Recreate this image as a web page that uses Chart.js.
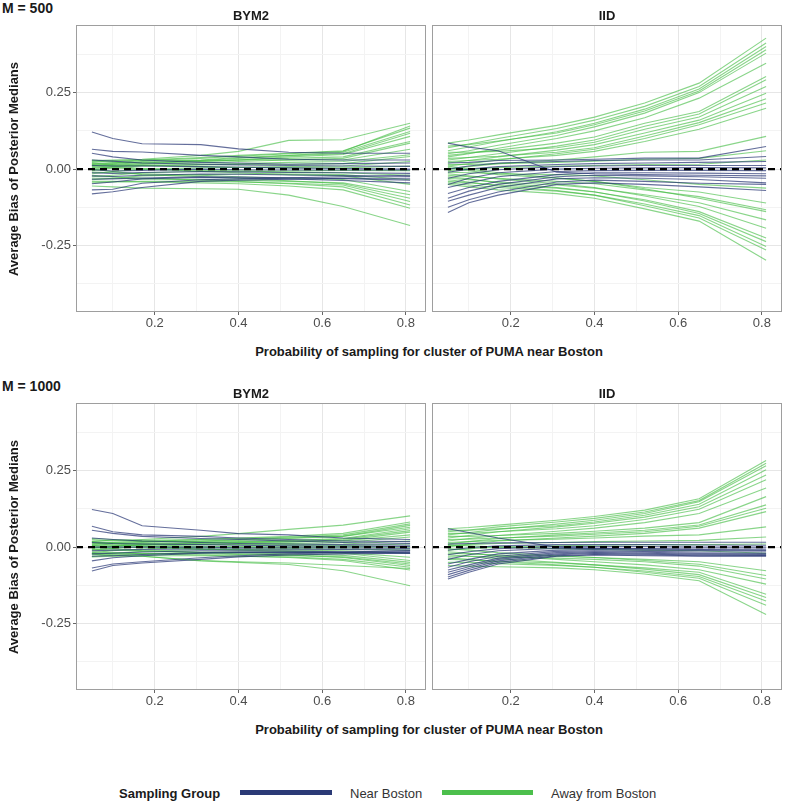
<!DOCTYPE html>
<html><head><meta charset="utf-8">
<script src="https://cdn.jsdelivr.net/npm/chart.js@4.4.1/dist/chart.umd.min.js"></script>
<style>
html,body{margin:0;padding:0;background:#fff;}
#wrap{position:relative;width:786px;height:804px;overflow:hidden;font-family:'Liberation Sans',Arial,sans-serif;color:#1a1a1a;}
canvas{position:absolute;}
.t{position:absolute;white-space:nowrap;transform:translate(-50%,-50%);line-height:1;}
.l{position:absolute;white-space:nowrap;transform:translate(0,-50%);line-height:1;}
.b{font-weight:bold;}
.yt{position:absolute;white-space:nowrap;transform:translate(-50%,-50%) rotate(-90deg);line-height:1;font-weight:bold;font-size:13px;}
.sw{position:absolute;height:5px;}
</style></head><body>
<div id="wrap">
  <canvas id="c1" width="430" height="320" style="left:0;top:20px"></canvas>
  <canvas id="c2" width="358" height="320" style="left:428px;top:20px"></canvas>
  <canvas id="c3" width="430" height="320" style="left:0;top:398px"></canvas>
  <canvas id="c4" width="358" height="320" style="left:428px;top:398px"></canvas>

  <div class="l b" style="left:2px;top:8px;font-size:14px">M = 500</div>
  <div class="t b" style="left:251px;top:15px;font-size:13px">BYM2</div>
  <div class="t b" style="left:607px;top:15px;font-size:13px">IID</div>
  <div class="yt" style="left:13px;top:169px">Average Bias of Posterior Medians</div>
  <div class="t b" style="left:429px;top:351px;font-size:13px">Probability of sampling for cluster of PUMA near Boston</div>

  <div class="l b" style="left:2px;top:386px;font-size:14px">M = 1000</div>
  <div class="t b" style="left:251px;top:393px;font-size:13px">BYM2</div>
  <div class="t b" style="left:607px;top:393px;font-size:13px">IID</div>
  <div class="yt" style="left:13px;top:547px">Average Bias of Posterior Medians</div>
  <div class="t b" style="left:429px;top:729px;font-size:13px">Probability of sampling for cluster of PUMA near Boston</div>

  <div class="l b" style="left:119px;top:793px;font-size:13px">Sampling Group</div>
  <div class="sw" style="left:240px;top:790px;width:92px;background:#2b3a76"></div>
  <div class="l" style="left:350px;top:793px;font-size:13px;color:#333">Near Boston</div>
  <div class="sw" style="left:442px;top:790px;width:91px;background:#4cbf4c"></div>
  <div class="l" style="left:551px;top:793px;font-size:13px;color:#333">Away from Boston</div>
</div>
<script>
// ---------- data ----------
const xProb = [0.05, 0.10, 0.17, 0.31, 0.40, 0.52, 0.65, 0.81];
const xMajor = [0.2, 0.4, 0.6, 0.8];
const xMinor = [0.1, 0.3, 0.5, 0.7];
const yMajor = [-0.25, 0, 0.25];
const yMinor = [-0.375, -0.125, 0.125, 0.375];
const xRange = [0.012, 0.848];
const yRange = [-0.467, 0.471];
const refLine = 0;

const m500_bym2_near = [
 [0.121,0.100,0.083,0.080,0.066,0.055,0.052,0.052],
 [0.065,0.058,0.056,0.045,0.040,0.032,0.030,0.030],
 [0.052,0.040,0.030,0.022,0.020,0.016,0.018,0.020],
 [0.030,0.026,0.020,0.016,0.014,0.012,0.010,0.009],
 [0.012,0.010,0.010,0.008,0.006,0.004,0.002,0.000],
 [-0.002,-0.006,-0.004,0.000,-0.002,-0.003,-0.003,-0.003],
 [-0.012,-0.014,-0.011,-0.008,-0.009,-0.011,-0.012,-0.014],
 [-0.022,-0.024,-0.020,-0.016,-0.017,-0.019,-0.021,-0.024],
 [-0.033,-0.032,-0.029,-0.025,-0.026,-0.028,-0.031,-0.036],
 [-0.048,-0.042,-0.032,-0.027,-0.028,-0.032,-0.037,-0.045],
 [-0.068,-0.066,-0.046,-0.035,-0.032,-0.028,-0.025,-0.020],
 [-0.081,-0.074,-0.060,-0.040,-0.036,-0.033,-0.030,-0.030]
];
const m500_bym2_away = [
 [0.022,0.028,0.032,0.045,0.058,0.094,0.096,0.150],
 [0.015,0.020,0.028,0.035,0.042,0.050,0.058,0.141],
 [0.030,0.025,0.030,0.038,0.045,0.052,0.060,0.134],
 [0.010,0.018,0.025,0.030,0.038,0.045,0.055,0.123],
 [0.025,0.022,0.020,0.028,0.035,0.044,0.050,0.117],
 [0.005,0.012,0.018,0.025,0.030,0.040,0.048,0.107],
 [0.018,0.015,0.022,0.025,0.030,0.035,0.040,0.090],
 [0.000,0.008,0.015,0.020,0.025,0.030,0.035,0.085],
 [0.028,0.030,0.030,0.028,0.030,0.030,0.030,0.065],
 [-0.005,0.004,0.010,0.015,0.018,0.022,0.025,0.047],
 [0.012,0.010,0.012,0.014,0.015,0.016,0.018,0.041],
 [-0.015,-0.008,0.000,0.004,0.006,0.008,0.010,0.025],
 [0.020,0.015,0.012,0.008,0.006,0.004,0.004,0.010],
 [-0.025,-0.020,-0.012,-0.008,-0.006,-0.006,-0.004,-0.005],
 [0.008,0.004,0.000,-0.004,-0.006,-0.010,-0.012,-0.020],
 [-0.035,-0.030,-0.022,-0.018,-0.016,-0.016,-0.018,-0.035],
 [0.015,0.010,0.002,-0.008,-0.012,-0.018,-0.022,-0.050],
 [-0.010,-0.012,-0.015,-0.020,-0.025,-0.030,-0.034,-0.073],
 [-0.030,-0.030,-0.032,-0.034,-0.036,-0.040,-0.045,-0.084],
 [0.000,-0.008,-0.018,-0.025,-0.030,-0.038,-0.048,-0.095],
 [-0.045,-0.042,-0.040,-0.040,-0.042,-0.046,-0.052,-0.106],
 [-0.020,-0.025,-0.030,-0.036,-0.040,-0.048,-0.058,-0.117],
 [-0.040,-0.040,-0.042,-0.045,-0.048,-0.055,-0.068,-0.128],
 [-0.055,-0.058,-0.062,-0.064,-0.066,-0.085,-0.122,-0.184]
];
const m500_iid_near = [
 [0.085,0.072,0.060,-0.010,-0.015,-0.018,-0.020,-0.022],
 [0.020,0.022,0.028,0.030,0.032,0.036,0.036,0.074],
 [0.000,0.010,0.020,0.025,0.028,0.030,0.030,0.041],
 [-0.010,0.000,0.008,0.015,0.018,0.020,0.022,0.025],
 [-0.030,-0.015,-0.002,0.008,0.010,0.012,0.012,0.012],
 [-0.050,-0.030,-0.012,0.000,0.003,0.004,0.005,0.004],
 [-0.060,-0.045,-0.025,-0.008,-0.005,-0.004,-0.004,-0.005],
 [-0.080,-0.060,-0.040,-0.018,-0.012,-0.012,-0.013,-0.015],
 [-0.095,-0.072,-0.050,-0.025,-0.020,-0.022,-0.025,-0.030],
 [-0.105,-0.085,-0.060,-0.032,-0.028,-0.030,-0.034,-0.045],
 [-0.125,-0.100,-0.075,-0.042,-0.036,-0.040,-0.046,-0.050],
 [-0.142,-0.110,-0.085,-0.050,-0.045,-0.050,-0.058,-0.070]
];
const m500_iid_away = [
 [0.085,0.095,0.112,0.143,0.170,0.216,0.281,0.428],
 [0.070,0.082,0.100,0.133,0.160,0.205,0.270,0.412],
 [0.060,0.072,0.090,0.122,0.150,0.196,0.262,0.401],
 [0.075,0.080,0.092,0.118,0.145,0.190,0.255,0.390],
 [0.050,0.060,0.078,0.110,0.138,0.183,0.250,0.379],
 [0.040,0.050,0.068,0.100,0.125,0.168,0.232,0.346],
 [0.045,0.052,0.062,0.085,0.105,0.150,0.188,0.303],
 [0.030,0.038,0.050,0.075,0.095,0.140,0.180,0.292],
 [0.055,0.055,0.058,0.070,0.088,0.130,0.170,0.270],
 [0.020,0.028,0.040,0.062,0.080,0.118,0.160,0.248],
 [0.035,0.038,0.042,0.055,0.070,0.108,0.152,0.230],
 [0.010,0.018,0.030,0.050,0.065,0.100,0.145,0.216],
 [0.025,0.028,0.032,0.045,0.058,0.090,0.130,0.199],
 [0.000,0.008,0.018,0.030,0.040,0.055,0.058,0.107],
 [0.015,0.015,0.018,0.022,0.026,0.032,0.035,0.060],
 [-0.005,0.000,0.005,0.010,0.012,0.015,0.016,0.030],
 [-0.010,-0.012,-0.015,-0.018,-0.022,-0.035,-0.050,-0.062],
 [0.005,-0.005,-0.018,-0.030,-0.040,-0.060,-0.075,-0.111],
 [-0.020,-0.025,-0.030,-0.040,-0.048,-0.068,-0.090,-0.133],
 [0.010,0.000,-0.012,-0.028,-0.040,-0.064,-0.095,-0.139],
 [-0.030,-0.035,-0.042,-0.052,-0.062,-0.084,-0.110,-0.166],
 [-0.015,-0.022,-0.032,-0.048,-0.060,-0.088,-0.122,-0.193],
 [-0.040,-0.045,-0.052,-0.062,-0.075,-0.100,-0.139,-0.225],
 [-0.025,-0.032,-0.045,-0.060,-0.074,-0.104,-0.145,-0.237],
 [-0.045,-0.052,-0.060,-0.072,-0.085,-0.114,-0.152,-0.253],
 [-0.035,-0.042,-0.055,-0.070,-0.085,-0.120,-0.160,-0.264],
 [-0.050,-0.058,-0.068,-0.080,-0.095,-0.130,-0.170,-0.298]
];
const m1000_bym2_near = [
 [0.123,0.110,0.070,0.055,0.044,0.040,0.030,0.025],
 [0.068,0.050,0.040,0.035,0.030,0.025,0.020,0.018],
 [0.055,0.045,0.035,0.028,0.025,0.020,0.015,0.012],
 [0.030,0.025,0.020,0.015,0.012,0.010,0.008,0.006],
 [0.015,0.012,0.010,0.008,0.006,0.004,0.003,0.002],
 [0.000,0.000,0.000,0.000,-0.002,-0.002,-0.003,-0.004],
 [-0.012,-0.010,-0.008,-0.006,-0.006,-0.007,-0.008,-0.010],
 [-0.022,-0.020,-0.016,-0.012,-0.012,-0.013,-0.015,-0.018],
 [-0.030,-0.028,-0.024,-0.018,-0.016,-0.017,-0.018,-0.020],
 [-0.045,-0.035,-0.028,-0.020,-0.018,-0.018,-0.016,-0.012],
 [-0.068,-0.055,-0.048,-0.035,-0.028,-0.022,-0.018,-0.015],
 [-0.078,-0.060,-0.052,-0.040,-0.032,-0.026,-0.022,-0.020]
];
const m1000_bym2_away = [
 [0.020,0.022,0.025,0.035,0.044,0.058,0.072,0.102],
 [0.010,0.015,0.018,0.025,0.030,0.035,0.045,0.082],
 [0.025,0.020,0.022,0.025,0.028,0.032,0.040,0.076],
 [0.005,0.010,0.015,0.020,0.024,0.030,0.036,0.071],
 [0.018,0.015,0.018,0.020,0.022,0.028,0.035,0.065],
 [-0.005,0.002,0.008,0.014,0.018,0.022,0.028,0.060],
 [0.012,0.010,0.012,0.015,0.016,0.020,0.026,0.054],
 [0.000,0.004,0.008,0.012,0.014,0.016,0.022,0.049],
 [0.028,0.025,0.020,0.018,0.016,0.018,0.020,0.040],
 [-0.010,-0.004,0.002,0.008,0.010,0.012,0.015,0.033],
 [0.015,0.012,0.010,0.008,0.008,0.009,0.010,0.020],
 [-0.018,-0.012,-0.006,0.000,0.002,0.004,0.005,0.010],
 [0.008,0.006,0.004,0.002,0.000,0.000,0.000,0.000],
 [-0.025,-0.020,-0.014,-0.008,-0.006,-0.005,-0.006,-0.010],
 [0.005,0.002,-0.002,-0.006,-0.008,-0.010,-0.012,-0.020],
 [-0.030,-0.026,-0.022,-0.018,-0.016,-0.016,-0.018,-0.033],
 [0.018,0.012,0.004,-0.006,-0.010,-0.014,-0.020,-0.044],
 [-0.008,-0.010,-0.012,-0.016,-0.018,-0.022,-0.027,-0.050],
 [-0.020,-0.020,-0.020,-0.022,-0.024,-0.027,-0.032,-0.055],
 [0.000,-0.005,-0.012,-0.018,-0.022,-0.026,-0.034,-0.060],
 [-0.032,-0.030,-0.028,-0.028,-0.030,-0.032,-0.040,-0.066],
 [-0.015,-0.018,-0.022,-0.026,-0.030,-0.034,-0.044,-0.075],
 [-0.022,-0.028,-0.030,-0.044,-0.048,-0.052,-0.060,-0.070],
 [-0.020,-0.025,-0.030,-0.045,-0.050,-0.057,-0.077,-0.126]
];
const m1000_iid_near = [
 [0.060,0.048,0.030,0.000,-0.004,-0.006,-0.008,-0.010],
 [0.010,0.012,0.014,0.015,0.016,0.016,0.016,0.016],
 [-0.010,-0.002,0.004,0.008,0.008,0.008,0.007,0.006],
 [-0.025,-0.015,-0.005,0.002,0.002,0.002,0.000,0.000],
 [-0.040,-0.025,-0.012,-0.004,-0.004,-0.005,-0.006,-0.006],
 [-0.055,-0.040,-0.022,-0.010,-0.008,-0.010,-0.011,-0.012],
 [-0.066,-0.048,-0.030,-0.014,-0.012,-0.014,-0.016,-0.016],
 [-0.075,-0.058,-0.036,-0.018,-0.015,-0.017,-0.020,-0.021],
 [-0.082,-0.064,-0.040,-0.022,-0.018,-0.020,-0.023,-0.024],
 [-0.090,-0.070,-0.045,-0.025,-0.021,-0.023,-0.026,-0.027],
 [-0.098,-0.076,-0.050,-0.028,-0.024,-0.026,-0.028,-0.028],
 [-0.104,-0.082,-0.055,-0.030,-0.026,-0.028,-0.030,-0.030]
];
const m1000_iid_away = [
 [0.060,0.064,0.072,0.088,0.100,0.121,0.158,0.283],
 [0.050,0.056,0.066,0.082,0.094,0.115,0.152,0.274],
 [0.040,0.048,0.058,0.075,0.088,0.110,0.148,0.266],
 [0.055,0.055,0.060,0.070,0.082,0.104,0.140,0.253],
 [0.030,0.038,0.050,0.066,0.078,0.098,0.132,0.236],
 [0.045,0.045,0.050,0.060,0.070,0.090,0.124,0.220],
 [0.020,0.028,0.038,0.052,0.062,0.080,0.110,0.193],
 [0.035,0.035,0.038,0.045,0.052,0.062,0.080,0.165],
 [0.010,0.018,0.028,0.040,0.046,0.055,0.072,0.138],
 [0.025,0.026,0.030,0.036,0.042,0.050,0.068,0.127],
 [0.000,0.010,0.020,0.030,0.036,0.045,0.062,0.116],
 [0.015,0.018,0.022,0.026,0.030,0.036,0.040,0.066],
 [0.005,0.008,0.012,0.015,0.018,0.020,0.022,0.033],
 [-0.010,-0.005,0.000,0.004,0.006,0.008,0.008,0.010],
 [0.008,0.004,0.000,-0.005,-0.008,-0.010,-0.012,-0.020],
 [-0.020,-0.022,-0.026,-0.030,-0.034,-0.040,-0.048,-0.077],
 [-0.005,-0.010,-0.018,-0.028,-0.034,-0.044,-0.056,-0.093],
 [-0.030,-0.030,-0.032,-0.036,-0.040,-0.048,-0.062,-0.104],
 [-0.015,-0.020,-0.028,-0.040,-0.048,-0.058,-0.074,-0.121],
 [-0.040,-0.042,-0.046,-0.052,-0.058,-0.068,-0.082,-0.154],
 [-0.025,-0.030,-0.038,-0.050,-0.058,-0.072,-0.090,-0.165],
 [-0.050,-0.050,-0.054,-0.060,-0.066,-0.078,-0.096,-0.176],
 [-0.035,-0.040,-0.048,-0.058,-0.066,-0.082,-0.102,-0.190],
 [-0.060,-0.062,-0.064,-0.068,-0.074,-0.088,-0.110,-0.220]
];

// ---------- styles ----------
const FONT = "'Liberation Sans', Arial, sans-serif";
const NAVY = 'rgba(40,54,116,0.72)';
const GREEN = 'rgba(64,188,64,0.62)';
const GRID_MAJOR = '#e6e6e6';
const GRID_MINOR = '#f3f3f3';

const frame = {
  id: 'frame',
  afterDraw(chart) {
    const a = chart.chartArea, c = chart.ctx;
    c.save();
    c.strokeStyle = '#9e9e9e';
    c.lineWidth = 1;
    c.strokeRect(Math.round(a.left) + 0.5, Math.round(a.top) + 0.5,
                 Math.round(a.right - a.left) - 1, Math.round(a.bottom - a.top) - 1);
    c.restore();
  }
};

function toPts(row) { return row.map((y, i) => ({ x: xProb[i], y })); }

function panel(id, near, away, isLeft) {
  const ds = [];
  ds.push({ data: xRange.map(x => ({ x, y: refLine })), borderColor: '#000', borderWidth: 2.3,
            borderDash: [7, 5], order: 0 });
  near.forEach(r => ds.push({ data: toPts(r), borderColor: NAVY, borderWidth: 1.1, order: 1 }));
  away.forEach(r => ds.push({ data: toPts(r), borderColor: GREEN, borderWidth: 1.1, order: 2 }));
  const allX = [...xMinor, ...xMajor].sort((p, q) => p - q);
  const allY = [...yMinor, ...yMajor].sort((p, q) => p - q);
  new Chart(document.getElementById(id), {
    type: 'line',
    data: { datasets: ds },
    options: {
      responsive: false, animation: false, devicePixelRatio: 1,
      layout: { padding: { top: 5, right: 4, left: 0, bottom: 0 }, autoPadding: false },
      elements: { point: { radius: 0 }, line: { tension: 0 } },
      plugins: { legend: { display: false }, tooltip: { enabled: false } },
      scales: {
        x: {
          type: 'linear', min: xRange[0], max: xRange[1],
          afterBuildTicks: a => { a.ticks = allX.map(v => ({ value: v })); },
          afterFit: a => { a.height = 28; a.paddingLeft = 0; a.paddingRight = 0; a.paddingTop = 0; a.paddingBottom = 0; },
          ticks: { autoSkip: false, maxRotation: 0, padding: 1, color: '#4d4d4d',
                   font: { family: FONT, size: 13 },
                   callback: v => xMajor.includes(v) ? v.toFixed(1) : '' },
          grid: { color: c => xMajor.includes(c.tick.value) ? GRID_MAJOR : GRID_MINOR,
                  lineWidth: 1, tickLength: 3,
                  tickColor: c => xMajor.includes(c.tick.value) ? '#666' : 'rgba(0,0,0,0)' },
          border: { display: false }
        },
        y: {
          type: 'linear', min: yRange[0], max: yRange[1],
          afterBuildTicks: a => { a.ticks = allY.map(v => ({ value: v })); },
          afterFit: a => { a.width = isLeft ? 76 : 4; a.paddingLeft = 0; a.paddingRight = 0; a.paddingTop = 0; a.paddingBottom = 0; },
          ticks: { display: isLeft, autoSkip: false, padding: 2, color: '#4d4d4d',
                   font: { family: FONT, size: 13 },
                   callback: v => yMajor.includes(v) ? v.toFixed(2) : '' },
          grid: { color: c => yMajor.includes(c.tick.value) ? GRID_MAJOR : GRID_MINOR,
                  lineWidth: 1, tickLength: 3, drawTicks: isLeft,
                  tickColor: c => yMajor.includes(c.tick.value) ? '#666' : 'rgba(0,0,0,0)' },
          border: { display: false }
        }
      }
    },
    plugins: [frame]
  });
}

panel('c1', m500_bym2_near, m500_bym2_away, true);
panel('c2', m500_iid_near, m500_iid_away, false);
panel('c3', m1000_bym2_near, m1000_bym2_away, true);
panel('c4', m1000_iid_near, m1000_iid_away, false);
</script>
</body></html>
